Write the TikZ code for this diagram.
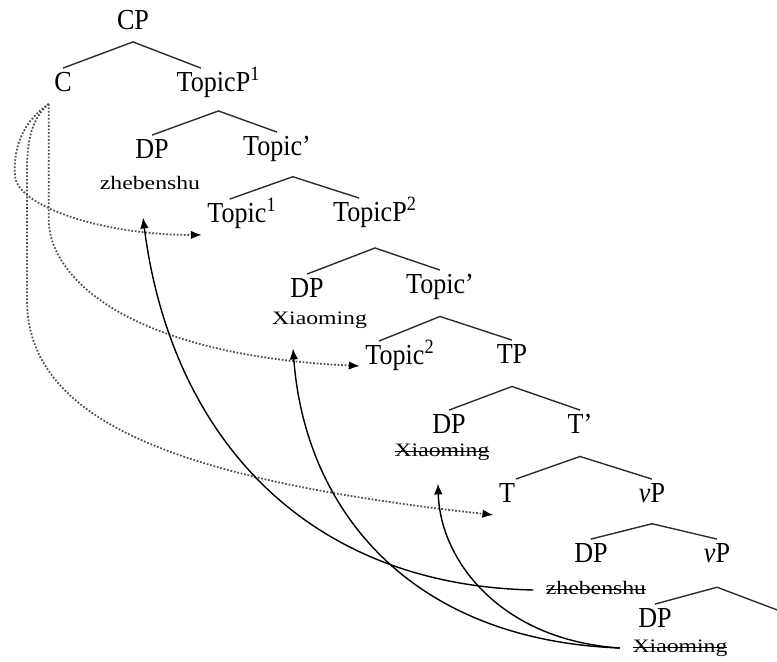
\documentclass[tikz,border=0pt]{standalone}
\usepackage{fontspec}
\setmainfont{Liberation Serif}[FakeStretch=0.9]
\newfontfamily\lexfont[FakeStretch=1.25]{Liberation Serif}
\usetikzlibrary{calc,arrows.meta}
\definecolor{branchgray}{RGB}{45,45,45}
\definecolor{chaingray}{RGB}{80,80,80}
\newcommand\struckout[1]{\setbox0\hbox{#1}\rlap{\rule[0.25em]{\wd0}{0.55pt}}\box0}

\begin{document}
\begin{tikzpicture}[
  cat/.style={inner sep=3pt,text height=10pt,text depth=4pt,font=\fontsize{16.5}{19}\selectfont},
  lex/.style={inner sep=7pt,text height=7.5pt,text depth=2.5pt,font=\lexfont\fontsize{10.8}{12}\selectfont},
  branch/.style={line width=0.8pt,color=branchgray},
  chain/.style={-{Latex[length=2.2mm,width=1.7mm,black]},densely dotted,line width=1pt,color=chaingray},
  move/.style={-{Latex[length=2.2mm,width=1.7mm]},line width=0.8pt,color=black}
]
\useasboundingbox (0,0) rectangle (15.54,-13.22);

\node[cat] (cp) at (2.66,-0.48) {CP};
\node[cat] (c) at (1.26,-1.72) {C};
\node[cat] (topp1) at (4.37,-1.72) {TopicP\textsuperscript{1}};
\node[cat] (dp1) at (3.04,-3.06) {DP};
\node[lex] (zheb1) at (3.0,-3.7) {zhebenshu};
\node[cat] (topbar1) at (5.54,-3.0) {Topic’};
\node[cat] (top1) at (4.84,-4.34) {Topic\textsuperscript{1}};
\node[cat] (topp2) at (7.5,-4.32) {TopicP\textsuperscript{2}};
\node[cat] (dp2) at (6.14,-5.84) {DP};
\node[lex] (xiao1) at (6.39,-6.4) {Xiaoming};
\node[cat] (topbar2) at (8.8,-5.76) {Topic’};
\node[cat] (top2) at (8.0,-7.18) {Topic\textsuperscript{2}};
\node[cat] (tp) at (10.24,-7.16) {TP};
\node[cat] (dp3) at (8.98,-8.56) {DP};
\node[lex] (xiao2) at (8.84,-9.04) {\struckout{Xiaoming}};
\node[cat] (tbar) at (11.6,-8.56) {T’};
\node[cat] (t) at (10.14,-9.94) {T};
\node[cat] (vp1) at (13.04,-9.94) {\textit{v}P};
\node[cat] (dp4) at (11.82,-11.14) {DP};
\node[lex] (zheb2) at (11.92,-11.8) {\struckout{zhebenshu}};
\node[cat] (vp2) at (14.34,-11.14) {\textit{v}P};
\node[cat] (dp5) at (13.1,-12.44) {DP};
\node[lex] (xiao3) at (13.6,-12.96) {\struckout{Xiaoming}};
\coordinate (cut) at (15.6,-12.22);

% tree
\draw[branch] (c.north) -- (cp.south) -- ([xshift=-10pt]topp1.north);
\draw[branch] (dp1.north) -- ([yshift=-4pt]topp1.south) -- (topbar1.north);
\draw[branch] ([xshift=-7pt]top1.north) -- ([xshift=9pt,yshift=-5pt]topbar1.south) -- ([xshift=-9pt]topp2.north);
\draw[branch] (dp2.north) -- ([yshift=-8pt]topp2.south) -- (topbar2.north);
\draw[branch] ([xshift=-12pt]top2.north) -- ([yshift=-6pt]topbar2.south) -- (tp.north);
\draw[branch] (dp3.north) -- ([yshift=-6pt]tp.south) -- (tbar.north);
\draw[branch] ([xshift=5pt]t.north) -- ([yshift=-6pt]tbar.south) -- (vp1.north);
\draw[branch] (dp4.north) -- ([yshift=-5pt]vp1.south) -- (vp2.north);
\draw[branch] (dp5.north) -- ([yshift=-7pt]vp2.south) -- (cut);

% C to the heads
\draw[chain] (c.south west) .. controls (0.5,-2.4) and (0.26,-2.9) .. (0.3,-3.5)
  .. controls (0.3,-4.1) and (2.0,-4.7) .. (top1.south west);
\draw[chain] (c.south west) -- ++(0,-2.3) .. controls +(0,-1.2) and (2.6,-7.1) .. ([yshift=-4pt]top2.west);
\draw[chain] (c.south west) .. controls (0.6,-2.4) and (0.54,-2.9) .. (0.54,-3.4) -- (0.54,-6.0)
  .. controls (0.54,-8.4) and (3.5,-9.6) .. (t.south west);

% movement
\draw[move] (zheb2.west) .. controls (6.0,-11.7) and (3.4,-8.6) .. ([shift={(-0.14,-0.22)}]zheb1.south);
\draw[move] (xiao3.west) .. controls (8.2,-12.8) and (6.1,-10.2) .. ([shift={(-0.53,-0.14)}]xiao1.south);
\draw[move] (xiao3.west) .. controls (10.0,-12.8) and (8.8,-11.2) .. ([shift={(-0.08,-0.2)}]xiao2.south);
\end{tikzpicture}
\end{document}
